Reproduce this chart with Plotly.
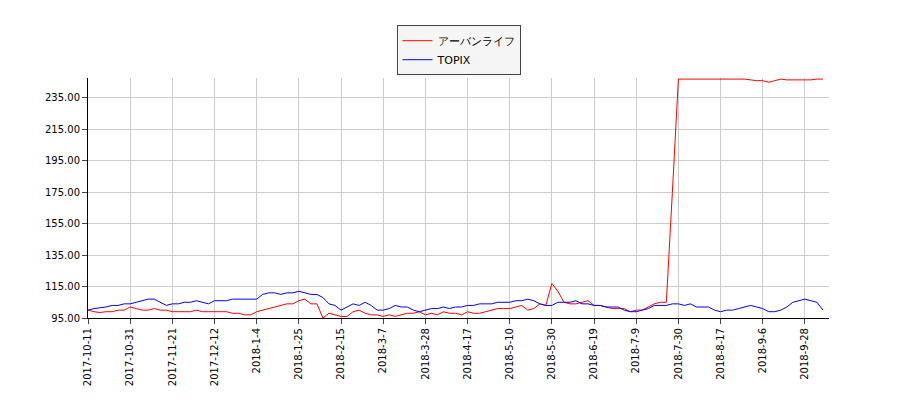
import plotly.graph_objects as go

tick_labels = ["2017-10-11", "2017-10-31", "2017-11-21", "2017-12-12", "2018-1-4", "2018-1-25",
               "2018-2-15", "2018-3-7", "2018-3-28", "2018-4-17", "2018-5-10", "2018-5-30",
               "2018-6-19", "2018-7-9", "2018-7-30", "2018-8-17", "2018-9-6", "2018-9-28"]
tick_idx = [i * 14 for i in range(len(tick_labels))]

urban = [100, 99, 98.5, 99, 99, 100, 100,
         102, 101, 100, 100, 101, 100, 100,
         99, 99, 99, 99, 100, 99, 99,
         99, 99, 99, 98, 98, 97, 97,
         99, 100, 101, 102, 103, 104, 104,
         106, 107, 104, 104, 95, 98, 97,
         96, 96, 99, 100, 98, 97, 97,
         96, 97, 96, 97, 98, 98, 99,
         97, 98, 97, 99, 98, 98, 97,
         99, 98, 98, 99, 100, 101, 101,
         101, 102, 103, 100, 101, 104, 103,
         117, 112, 105, 104, 104, 105, 106,
         103, 103, 102, 101, 101, 101, 99,
         100, 100, 102, 104, 105, 105, 175,
         247, 247, 247, 247, 247, 247, 247,
         247, 247, 247, 247, 247, 246.5, 246,
         246, 245, 246, 247, 246.5, 246.5, 246.5,
         246.5, 246.5, 247, 247]
topix = [100, 101, 101.5, 102, 103, 103, 104,
         104, 105, 106, 107, 107, 105, 103,
         104, 104, 105, 105, 106, 105, 104,
         106, 106, 106, 107, 107, 107, 107,
         107, 110, 111, 111, 110, 111, 111,
         112, 111, 110, 110, 108, 104, 103,
         100, 102, 104, 103, 105, 103, 100,
         100, 101, 103, 102, 102, 100, 99,
         100, 101, 101, 102, 101, 102, 102,
         103, 103, 104, 104, 104, 105, 105,
         105, 106, 106, 107, 106, 104, 103,
         103, 105, 105, 105, 106, 104, 104,
         103, 103, 102, 102, 102, 100, 99,
         99, 100, 101, 103, 103, 103, 104,
         104, 103, 104, 102, 102, 102, 100,
         99, 100, 100, 101, 102, 103, 102,
         101, 99, 99, 100, 102, 105, 106,
         107, 106, 105, 100]

x = [i * 2 for i in range(len(urban))]

fig = go.Figure()
fig.add_trace(go.Scatter(x=x, y=urban, mode="lines", name="アーバンライフ", line=dict(color="red", width=1)))
fig.add_trace(go.Scatter(x=x, y=topix, mode="lines", name="TOPIX", line=dict(color="blue", width=1)))

fig.update_layout(
    width=900, height=400, plot_bgcolor="white", paper_bgcolor="white",
    margin=dict(l=80, r=79, t=70, b=90),
    font=dict(family="DejaVu Sans", size=11, color="black"),
    legend=dict(x=0.5, xanchor="center", y=1.22, yanchor="top", bgcolor="#f5f5f5",
                bordercolor="#444", borderwidth=1, tracegroupgap=0,
                font=dict(size=11)),
)
fig.update_xaxes(range=[0, 246], tickvals=tick_idx, ticktext=tick_labels, tickangle=-90,
                 automargin=False, tickfont=dict(size=10),
                 showgrid=True, gridcolor="#cccccc", showline=True, linecolor="black", ticks="outside")
fig.update_yaxes(range=[95, 247.7], tickvals=list(range(95, 236, 20)), tickformat=".2f",
                 automargin=False, tickfont=dict(size=10),
                 showgrid=True, gridcolor="#cccccc", showline=True, linecolor="black", ticks="outside")
fig.write_html("out.html")
